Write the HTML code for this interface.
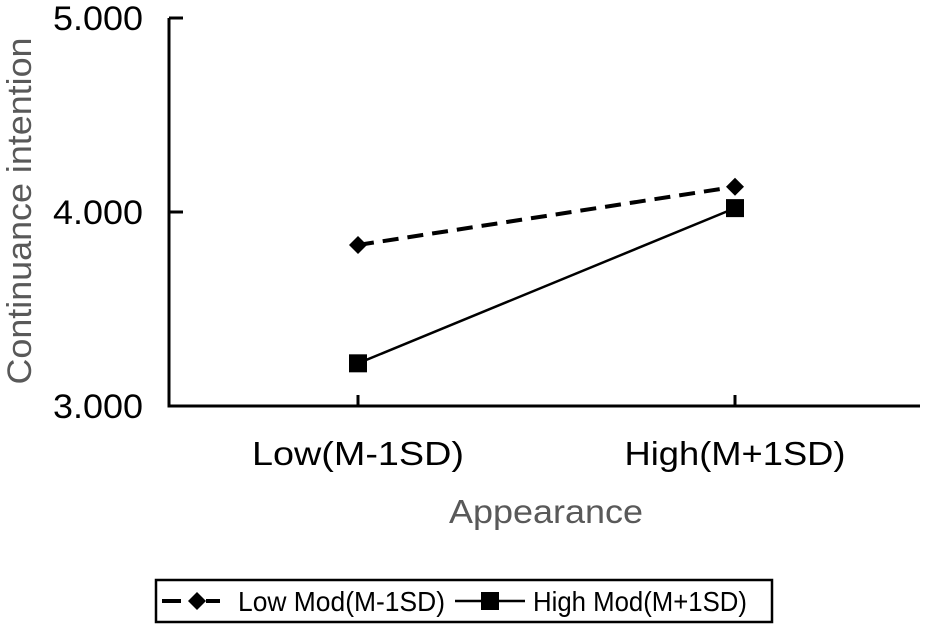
<!DOCTYPE html>
<html><head><meta charset="utf-8"><style>
html,body{margin:0;padding:0;background:#fff;width:930px;height:628px;overflow:hidden}
text{font-family:"Liberation Sans",Arial,sans-serif}
</style></head><body>
<svg id="chart" width="930" height="628" viewBox="0 0 930 628" xmlns="http://www.w3.org/2000/svg"></svg>
<script>
const categories = ["Low(M-1SD)", "High(M+1SD)"];
const lowModValues = [3.83, 4.13];
const highModValues = [3.22, 4.02];
const yTicks = [3, 4, 5];
const yTickLabels = ["3.000", "4.000", "5.000"];
const seriesNames = ["Low Mod(M-1SD)", "High Mod(M+1SD)"];

const NS = "http://www.w3.org/2000/svg";
const svg = document.getElementById("chart");
const X0 = 169, X1 = 920, Y0 = 406, Y1 = 18;
const catX = [358, 735];
const catLen = [212, 221];
function xScale(i){ return catX[i]; }
function yScale(v){ return Y0 - (v - 3) / 2 * (Y0 - Y1); }
function mk(tag, attrs, parent){
  const e = document.createElementNS(NS, tag);
  for (const k in attrs) e.setAttribute(k, attrs[k]);
  (parent || svg).appendChild(e);
  return e;
}

let a = mk("path", {d:`M${X0},${Y1} V${Y0} H${X1}`, stroke:"#000", "stroke-width":3, fill:"none"});



yTicks.forEach((t, i) => {
  const y = yScale(t);
  const tk = mk("line", {x1:X0, x2:X0+14, y1:y, y2:y, stroke:"#000", "stroke-width":3});
  
  
  const lb = mk("text", {x:53, y:y+12, "font-size":34, fill:"#000", textLength:90, lengthAdjust:"spacingAndGlyphs"});
  lb.textContent = yTickLabels[i];
  
  
});
categories.forEach((c, i) => {
  const x = xScale(i);
  const tk = mk("line", {x1:x, x2:x, y1:Y0-11, y2:Y0, stroke:"#000", "stroke-width":3});
  
  
  const lb = mk("text", {x:x, y:465, "text-anchor":"middle", "font-size":33, fill:"#000", textLength:catLen[i], lengthAdjust:"spacingAndGlyphs"});
  lb.textContent = c;
  
  
});

let xt = mk("text", {x:546, y:523, "text-anchor":"middle", "font-size":33, fill:"#595959", textLength:194, lengthAdjust:"spacingAndGlyphs"});
xt.textContent = "Appearance";


let yt = mk("text", {x:0, y:0, "text-anchor":"middle", "font-size":34, fill:"#595959", textLength:347, lengthAdjust:"spacingAndGlyphs", transform:"translate(31,211) rotate(-90)"});
yt.textContent = "Continuance intention";



function diamond(cx, cy, r, g){ return mk("path", {d:`M${cx},${cy-r} L${cx+r},${cy} L${cx},${cy+r} L${cx-r},${cy} Z`, fill:"#000"}, g); }
function square(cx, cy, r, g){ return mk("rect", {x:cx-r, y:cy-r, width:2*r, height:2*r, fill:"#000"}, g); }

const pts1 = lowModValues.map((v,i)=>[xScale(i), yScale(v)]);
let l1 = mk("path", {d:"M"+pts1.map(p=>p.join(",")).join(" L"), stroke:"#000", "stroke-width":4, fill:"none", "stroke-dasharray":"16,9"});


pts1.forEach(p => {
  const m = diamond(p[0], p[1], 9);
  
  
});
const pts2 = highModValues.map((v,i)=>[xScale(i), yScale(v)]);
let l2 = mk("path", {d:"M"+pts2.map(p=>p.join(",")).join(" L"), stroke:"#000", "stroke-width":2.5, fill:"none"});


pts2.forEach(p => {
  const m = square(p[0], p[1], 9);
  
  
});

const lg = mk("g", {});


mk("rect", {x:156, y:580, width:616, height:42, fill:"#fff", stroke:"#000", "stroke-width":2.5}, lg);
const e1 = mk("g", {}, lg);


mk("line", {x1:162, x2:181, y1:601, y2:601, stroke:"#000", "stroke-width":4}, e1);
mk("line", {x1:206, x2:220, y1:601, y2:601, stroke:"#000", "stroke-width":4}, e1);
diamond(197, 601, 9, e1);
const t1 = mk("text", {x:238, y:611, "font-size":28, fill:"#000", textLength:207, lengthAdjust:"spacingAndGlyphs"}, e1);
t1.textContent = seriesNames[0];
const e2 = mk("g", {}, lg);


mk("line", {x1:455, x2:525, y1:601, y2:601, stroke:"#000", "stroke-width":2.5}, e2);
square(490, 601, 9, e2);
const t2 = mk("text", {x:533, y:611, "font-size":28, fill:"#000", textLength:214, lengthAdjust:"spacingAndGlyphs"}, e2);
t2.textContent = seriesNames[1];
</script>
</body></html>
